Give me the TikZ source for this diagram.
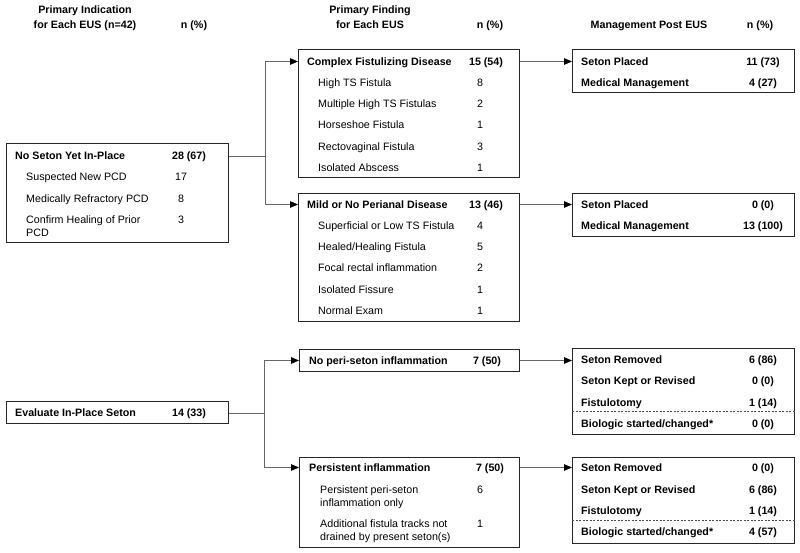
\documentclass[tikz,border=0pt]{standalone}
\usepackage{fontspec}
\setmainfont{Liberation Sans}
\usetikzlibrary{arrows.meta}
\begin{document}
\fontsize{10.7}{13.2}\selectfont
\begin{tikzpicture}[x=1pt,y=-1pt]
    \tikzset{
        box/.style={draw=black!85, line width=1.2pt, anchor=north west, inner sep=0pt},
        row/.style={anchor=west, inner sep=0pt, text height=7.7pt, text depth=0pt},
        hrow/.style={row, font=\bfseries},
        num/.style={inner sep=0pt, text height=7.7pt, text depth=0pt},
        hnum/.style={num, font=\bfseries},
        wrap/.style={anchor=north west, inner sep=0pt, align=left},
        link/.style={draw=black!60, line width=1pt},
        arr/.style={link, -{Triangle[length=8pt,width=6.5pt,color=black]}},
        sep/.style={draw=black!70, line width=0.8pt, dash pattern=on 2pt off 1.5pt}}
    \useasboundingbox (0,0) rectangle (800,552);
    % column heads
    \node[hnum] (h1a) at (85,10) {Primary Indication};
    \node[hnum] (h1b) at (85,25) {for Each EUS (n=42)};
    \node[hnum] (h1n) at (194,25) {n (\%)};
    \node[hnum] (h2a) at (370,10) {Primary Finding};
    \node[hnum] (h2b) at (370,25) {for Each EUS};
    \node[hnum] (h2n) at (490,25) {n (\%)};
    \node[hnum] (h3a) at (649,25) {Management Post EUS};
    \node[hnum] (h3n) at (760,25) {n (\%)};
    % primary indication
    \node[box, minimum width=222pt, minimum height=99pt] (noseton) at (6,143) {};
    \node[hrow] (nst) at (15,155.5) {No Seton Yet In-Place};
    \node[hnum] (nsn) at (189,155.5) {28 (67)};
    \foreach \t/\n [count=\i] in {Suspected New PCD/17, Medically Refractory PCD/8}{
        \node[row] (ns\i) at (26,{155.5+21.5*\i}) {\t};
        \node[num] (nsn\i) at (181,{155.5+21.5*\i}) {\n};}
    \node[wrap] (ns3) at (26,215.5) {Confirm Healing of Prior\\PCD};
    \node[num] (nsn3) at (181,219.5) {3};
    \node[box, minimum width=222pt, minimum height=22pt] (evalseton) at (6,401) {};
    \node[hrow] (evt) at (15,412.5) {Evaluate In-Place Seton};
    \node[hnum] (evn) at (189,412.5) {14 (33)};
    % primary finding
    \node[box, minimum width=221pt, minimum height=128pt] (complex) at (298,49) {};
    \node[hrow] (cft) at (307,61.5) {Complex Fistulizing Disease};
    \node[hnum] (cfn) at (486,61.5) {15 (54)};
    \foreach \t/\n [count=\i] in {High TS Fistula/8, Multiple High TS Fistulas/2,
        Horseshoe Fistula/1, Rectovaginal Fistula/3, Isolated Abscess/1}{
        \node[row] (cf\i) at (318,{61.5+21.2*\i}) {\t};
        \node[num] (cfn\i) at (480,{61.5+21.2*\i}) {\n};}
    \node[box, minimum width=221pt, minimum height=128pt] (mild) at (298,193) {};
    \node[hrow] (mdt) at (307,204.5) {Mild or No Perianal Disease};
    \node[hnum] (mdn) at (486,204.5) {13 (46)};
    \foreach \t/\n [count=\i] in {Superficial or Low TS Fistula/4, {Healed/Healing Fistula}/5,
        Focal rectal inflammation/2, Isolated Fissure/1, Normal Exam/1}{
        \node[row] (md\i) at (318,{204.5+21.2*\i}) {\t};
        \node[num] (mdn\i) at (480,{204.5+21.2*\i}) {\n};}
    \node[box, minimum width=220pt, minimum height=22pt] (noperi) at (299,349) {};
    \node[hrow] (npt) at (309,360.5) {No peri-seton inflammation};
    \node[hnum] (npn) at (487,360.5) {7 (50)};
    \node[box, minimum width=220pt, minimum height=90pt] (persist) at (299,457) {};
    \node[hrow] (pit) at (309,467.5) {Persistent inflammation};
    \node[hnum] (pin) at (490,467.5) {7 (50)};
    \node[wrap] (pi1) at (320,485.5) {Persistent peri-seton\\inflammation only};
    \node[num] (pin1) at (480,489.5) {6};
    \node[wrap] (pi2) at (320,519.5) {Additional fistula tracks not\\drained by present seton(s)};
    \node[num] (pin2) at (480,523.5) {1};
    % management post EUS
    \node[box, minimum width=222pt, minimum height=43pt] (placedA) at (572,49) {};
    \foreach \t/\n [count=\i from 0] in {Seton Placed/11 (73), Medical Management/4 (27)}{
        \node[hrow] (pa\i) at (581,{61.5+21*\i}) {\t};
        \node[hnum] (pan\i) at (763,{61.5+21*\i}) {\n};}
    \node[box, minimum width=222pt, minimum height=43pt] (placedB) at (572,193) {};
    \foreach \t/\n [count=\i from 0] in {Seton Placed/0 (0), Medical Management/13 (100)}{
        \node[hrow] (pb\i) at (581,{204.5+21*\i}) {\t};
        \node[hnum] (pbn\i) at (763,{204.5+21*\i}) {\n};}
    \node[box, minimum width=222pt, minimum height=86pt] (removedA) at (572,348) {};
    \foreach \t/\n [count=\i from 0] in {Seton Removed/6 (86), Seton Kept or Revised/0 (0), Fistulotomy/1 (14)}{
        \node[hrow] (ra\i) at (581,{359.5+21.5*\i}) {\t};
        \node[hnum] (ran\i) at (763,{359.5+21.5*\i}) {\n};}
    \draw[sep] ([yshift=-63.5pt]removedA.north west) -- ([yshift=-63.5pt]removedA.north east);
    \node[hrow] (ra3) at (581,423.5) {Biologic started/changed*};
    \node[hnum] (ran3) at (763,423.5) {0 (0)};
    \node[box, minimum width=222pt, minimum height=86pt] (removedB) at (572,457) {};
    \foreach \t/\n [count=\i from 0] in {Seton Removed/0 (0), Seton Kept or Revised/6 (86), Fistulotomy/1 (14)}{
        \node[hrow] (rb\i) at (581,{468+21.5*\i}) {\t};
        \node[hnum] (rbn\i) at (763,{468+21.5*\i}) {\n};}
    \draw[sep] ([yshift=-63.5pt]removedB.north west) -- ([yshift=-63.5pt]removedB.north east);
    \node[hrow] (rb3) at (581,532) {Biologic started/changed*};
    \node[hnum] (rbn3) at (763,532) {4 (57)};
    % connectors
    \coordinate (ja) at (265,156);
    \draw[link] (noseton.east |- ja) -- (ja);
    \draw[arr] (ja) |- (complex.west |- cft);
    \draw[arr] (ja) |- (mild.west |- mdt);
    \draw[arr] (complex.east |- cft) -- (placedA.west |- cft);
    \draw[arr] (mild.east |- mdt) -- (placedB.west |- mdt);
    \coordinate (jb) at (264,413);
    \draw[link] (evalseton.east |- jb) -- (jb);
    \draw[arr] (jb) |- (noperi.west |- npt);
    \draw[arr] (jb) |- (persist.west |- pit);
    \draw[arr] (noperi.east |- npt) -- (removedA.west |- npt);
    \draw[arr] (persist.east |- pit) -- (removedB.west |- pit);
\end{tikzpicture}
\end{document}
